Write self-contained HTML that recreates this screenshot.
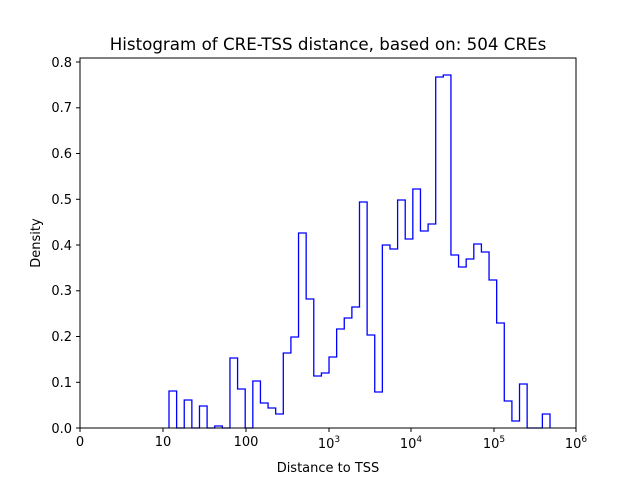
<!DOCTYPE html>
<html><head><style>body{margin:0;background:#fff}</style></head><body>
<svg width="640" height="480" xmlns="http://www.w3.org/2000/svg" font-family="DejaVu Sans, Liberation Sans, sans-serif">
<rect width="640" height="480" fill="#fff"/>
<path fill="none" stroke="#0000ff" stroke-width="1.3" d="M169,428 V391 H176.62 V428 H184.24 V400 H191.86 V428 H199.48 V406 H207.1 V428 H214.72 V426 H222.34 V428 H229.96 V358 H237.58 V389 H245.2 V428 H252.82 V381 H260.44 V403 H268.06 V408 H275.68 V414 H283.3 V353 H290.92 V337 H298.54 V233 H306.16 V299 H313.78 V376 H321.4 V373 H329.02 V357 H336.64 V329 H344.26 V318 H351.88 V307 H359.5 V202 H367.12 V335 H374.74 V392 H382.36 V245 H389.98 V249 H397.6 V200 H405.22 V239 H412.84 V189 H420.46 V231 H428.08 V224 H435.7 V77 H443.32 V75 H450.94 V255 H458.56 V267 H466.18 V259 H473.8 V244 H481.42 V252 H489.04 V280 H496.66 V323 H504.28 V401 H511.9 V421 H519.52 V384 H527.14 V428 H534.76 V428 H542.38 V414 H550 V428"/>
<rect x="80" y="58" width="496" height="370" fill="none" stroke="#000" stroke-width="1"/>
<g stroke="#000" stroke-width="1">
<line x1="80" y1="428" x2="80" y2="432"/><line x1="163" y1="428" x2="163" y2="432"/><line x1="246" y1="428" x2="246" y2="432"/><line x1="329" y1="428" x2="329" y2="432"/><line x1="411" y1="428" x2="411" y2="432"/><line x1="494" y1="428" x2="494" y2="432"/><line x1="576" y1="428" x2="576" y2="432"/>
<line x1="76" y1="428" x2="80" y2="428"/><line x1="76" y1="382.3" x2="80" y2="382.3"/><line x1="76" y1="336.5" x2="80" y2="336.5"/><line x1="76" y1="290.8" x2="80" y2="290.8"/><line x1="76" y1="245" x2="80" y2="245"/><line x1="76" y1="199.3" x2="80" y2="199.3"/><line x1="76" y1="153.5" x2="80" y2="153.5"/><line x1="76" y1="107.8" x2="80" y2="107.8"/><line x1="76" y1="62" x2="80" y2="62"/>
</g>
<g font-size="13" text-anchor="middle" fill="#000">
<text x="80" y="446">0</text><text x="163" y="446">10</text><text x="246" y="446">100</text>
<text x="329" y="448">10<tspan font-size="9" dy="-6">3</tspan></text>
<text x="411" y="448">10<tspan font-size="9" dy="-6">4</tspan></text>
<text x="494" y="448">10<tspan font-size="9" dy="-6">5</tspan></text>
<text x="576" y="448">10<tspan font-size="9" dy="-6">6</tspan></text>
</g>
<g font-size="13" text-anchor="end" fill="#000">
<text x="72" y="433">0.0</text><text x="72" y="387">0.1</text><text x="72" y="341">0.2</text><text x="72" y="295">0.3</text><text x="72" y="250">0.4</text><text x="72" y="204">0.5</text><text x="72" y="158">0.6</text><text x="72" y="112">0.7</text><text x="72" y="67">0.8</text>
</g>
<text x="328" y="50" font-size="16.7" text-anchor="middle">Histogram of CRE-TSS distance, based on: 504 CREs</text>
<text x="328" y="472" font-size="13" text-anchor="middle">Distance to TSS</text>
<text x="0" y="0" font-size="13" text-anchor="middle" transform="translate(40,243) rotate(-90)">Density</text>
</svg>
</body></html>
